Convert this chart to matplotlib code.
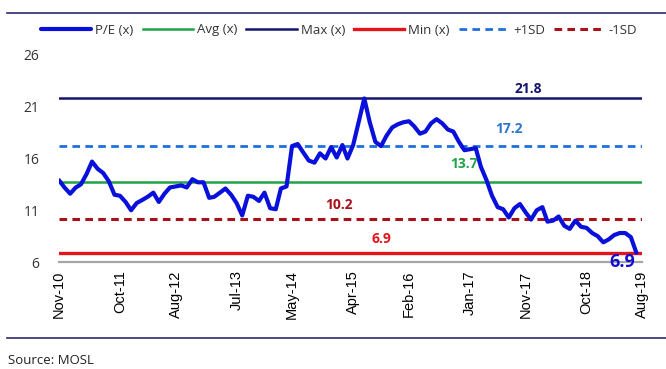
import matplotlib
matplotlib.use("Agg")
import matplotlib.pyplot as plt
from matplotlib.lines import Line2D
import numpy as np
import pandas as pd

# monthly P/E (x), Nov-10 .. Jul-19
pe = [13.9, 13.2, 12.6, 13.2, 13.5, 14.5, 15.7, 15.0, 14.6, 13.8,
      12.5, 12.4, 11.8, 11.0, 11.7, 12.0, 12.3, 12.7, 11.8, 12.6,
      13.2, 13.3, 13.4, 13.2, 14.0, 13.7, 13.7, 12.2, 12.3, 12.7,
      13.1, 12.5, 11.7, 10.5, 12.4, 12.3, 11.9, 12.7, 11.2, 11.1,
      13.1, 13.3, 17.2, 17.4, 16.6, 15.8, 15.6, 16.5, 16.0, 17.1,
      16.1, 17.3, 16.0, 17.3, 19.5, 21.8, 19.5, 17.6, 17.2, 18.2,
      19.0, 19.3, 19.5, 19.6, 19.1, 18.4, 18.6, 19.4, 19.8, 19.4,
      18.8, 18.6, 17.6, 16.8, 16.9, 17.0, 15.2, 13.9, 12.4, 11.3,
      11.1, 10.3, 11.2, 11.6, 10.8, 10.1, 11.0, 11.3, 9.9, 10.0,
      10.4, 9.5, 9.2, 10.0, 9.4, 9.3, 8.8, 8.5, 7.9, 8.2,
      8.6, 8.8, 8.8, 8.4, 6.9]
avg_pe = 13.7
max_pe = 21.8
min_pe = 6.9
plus_sd = 17.2
minus_sd = 10.2

tick_labels = ["Nov-10", "Oct-11", "Aug-12", "Jul-13", "May-14", "Apr-15",
               "Feb-16", "Jan-17", "Nov-17", "Oct-18", "Aug-19"]
y_ticks = [6, 11, 16, 21, 26]

dates = pd.date_range("2010-11-01", periods=len(pe), freq="MS")
tick_dates = pd.to_datetime(tick_labels, format="%b-%y")

plt.rcParams["font.family"] = ["Open Sans", "DejaVu Sans"]
plt.rcParams["lines.scale_dashes"] = False

fig = plt.figure(figsize=(6.66, 3.69), dpi=100)
ax = fig.add_axes([59/666, 1-262/369, (642-59)/666, (262-55)/369])

dash = (0, (5.5, 3.8))
ax.axhline(max_pe, color="#14146e", lw=1.8, label="Max (x)")
ax.axhline(plus_sd, color="#1f6fe0", lw=2.0, ls=dash, label="+1SD")
ax.axhline(avg_pe, color="#21a34a", lw=1.8, label="Avg (x)")
ax.axhline(minus_sd, color="#a8101a", lw=2.2, ls=dash, label="-1SD")
ax.axhline(min_pe, color="#e5141b", lw=2.4, label="Min (x)")
ax.plot(dates, pe, color="#0a10dc", lw=3.0, solid_joinstyle="round",
        solid_capstyle="round", label="P/E (x)")

ax.set_xlim(tick_dates[0], tick_dates[-1])
ax.set_ylim(6, 26)
ax.set_yticks(y_ticks)
ax.set_xticks(tick_dates)
ax.set_xticklabels(tick_labels, rotation=90, family="Liberation Sans", fontsize=10.5)
ax.tick_params(axis="x", length=0, pad=6)
ax.tick_params(axis="y", length=0, pad=14, labelsize=10, labelcolor="#333333")
for s in ["top", "right", "left"]:
    ax.spines[s].set_visible(False)
ax.spines["bottom"].set_color("#a6a6a6")
ax.spines["bottom"].set_linewidth(1.6)

# value labels
ax.annotate(f"{max_pe}", (pd.Timestamp("2017-10-01"), max_pe), xytext=(6, 2),
            textcoords="offset points", ha="center", va="bottom",
            color="#14146e", fontsize=10, weight="bold")
ax.annotate(f"{plus_sd}", (pd.Timestamp("2017-08-01"), plus_sd), xytext=(0, 7),
            textcoords="offset points", ha="center", va="bottom",
            color="#2e75d0", fontsize=10, weight="bold")
ax.annotate(f"{avg_pe}", (pd.Timestamp("2016-12-01"), avg_pe), xytext=(0, 8),
            textcoords="offset points", ha="center", va="bottom",
            color="#21a34a", fontsize=10, weight="bold")
ax.annotate(f"{minus_sd}", (pd.Timestamp("2015-01-01"), minus_sd), xytext=(2, 5),
            textcoords="offset points", ha="center", va="bottom",
            color="#a8101a", fontsize=10, weight="bold")
ax.annotate(f"{min_pe}", (pd.Timestamp("2015-09-01"), min_pe), xytext=(0, 5),
            textcoords="offset points", ha="center", va="bottom",
            color="#e5141b", fontsize=10, weight="bold")
ax.annotate(f"{pe[-1]}", (dates[-1], pe[-1]), xytext=(-10, -7),
            textcoords="offset points", ha="center", va="center",
            color="#1010d0", fontsize=13, weight="bold")

# legend along the top
h, l = ax.get_legend_handles_labels()
order = ["P/E (x)", "Avg (x)", "Max (x)", "Min (x)", "+1SD", "-1SD"]
hd = dict(zip(l, h))
fig.legend([hd[k] for k in order], order, loc="center", bbox_to_anchor=(339/666, 1-30/369),
           ncol=6, frameon=False, fontsize=9.5, handlelength=3.8, handletextpad=0.3,
           columnspacing=0.7, labelcolor="#333333")

# frame rules and source
fig.add_artist(Line2D([7/666, 1], [1-12.5/369]*2, color="#2e2a6e", lw=1.2))
fig.add_artist(Line2D([7/666, 1], [1-338/369]*2, color="#2e2a6e", lw=1.2))
fig.text(8/666, 1-360/369, "Source: MOSL", fontsize=9.5, va="center", color="#222222")

fig.savefig("out.png", dpi=100)
